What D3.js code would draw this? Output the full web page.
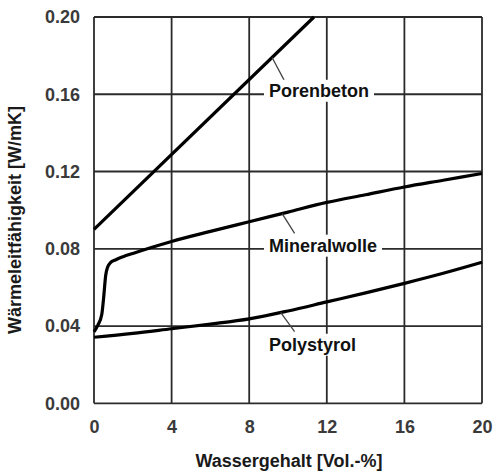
<!DOCTYPE html>
<html><head><meta charset="utf-8">
<script src="https://cdn.jsdelivr.net/npm/d3@7"></script>
<style>
html,body{margin:0;padding:0;background:#fff;}
svg text{font-family:"Liberation Sans",Arial,sans-serif;font-weight:bold;}
</style></head>
<body><svg id="c" width="493" height="472"></svg>
<script>
const xTicks = [0, 4, 8, 12, 16, 20];
const yTicks = [0.00, 0.04, 0.08, 0.12, 0.16, 0.20];
const yTickLabels = ["0.00", "0.04", "0.08", "0.12", "0.16", "0.20"];

const porenbetonX = [0, 11.34];
const porenbetonY = [0.090, 0.200];

const mineralwolleX = [0, 0.2, 0.4, 0.5, 0.6, 0.7, 0.85, 1.1, 1.5, 2, 3, 4, 6, 8, 10, 12, 14, 16, 18, 20];
const mineralwolleY = [0.037, 0.0405, 0.046, 0.055, 0.066, 0.0705, 0.0728, 0.0742, 0.0759, 0.0776, 0.0808, 0.0838, 0.089, 0.094, 0.099, 0.104, 0.108, 0.112, 0.1155, 0.119];

const polystyrolX = [0, 2, 4, 6, 8, 10, 12, 14, 16, 18, 20];
const polystyrolY = [0.0342, 0.0362, 0.0386, 0.041, 0.0437, 0.0478, 0.0525, 0.0572, 0.0621, 0.0673, 0.073];

const seriesNames = ["Porenbeton", "Mineralwolle", "Polystyrol"];

const svg = d3.select("#c");
const x = d3.scaleLinear().domain([0, 20]).range([94, 482]);
const y = d3.scaleLinear().domain([0, 0.2]).range([403.3, 17]);

const grid = svg.append("g").attr("stroke", "#2b2b2b").attr("stroke-width", 1.8);
grid.selectAll("line.v").data(xTicks).join("line")
  .attr("x1", d => x(d)).attr("x2", d => x(d)).attr("y1", y(0)).attr("y2", y(0.2));
grid.selectAll("line.h").data(yTicks).join("line")
  .attr("y1", d => y(d)).attr("y2", d => y(d)).attr("x1", x(0)).attr("x2", x(20));

const xAxis = svg.append("g").attr("transform", `translate(0,${y(0)})`)
  .call(d3.axisBottom(x).tickValues(xTicks).tickSize(0).tickPadding(26).tickFormat(d3.format("d")));
const yAxis = svg.append("g").attr("transform", `translate(${x(0)},0)`)
  .call(d3.axisLeft(y).tickValues(yTicks).tickSize(0).tickPadding(14).tickFormat((d, i) => yTickLabels[i]));
[xAxis, yAxis].forEach(a => {
  a.select(".domain").remove();
  a.selectAll("text").attr("font-size", 18).attr("fill", "#3a3a3a")
    .style("font-family", '"Liberation Sans",Arial,sans-serif');
});
xAxis.selectAll("text").attr("dy", "0.2em");

const line = d3.line().x(d => x(d[0])).y(d => y(d[1])).curve(d3.curveMonotoneX);
const zip = (a, b) => a.map((v, i) => [v, b[i]]);
const series = [zip(porenbetonX, porenbetonY), zip(mineralwolleX, mineralwolleY), zip(polystyrolX, polystyrolY)];

const curves = svg.append("g").attr("fill", "none").attr("stroke", "#000").attr("stroke-width", 3.2)
  .attr("stroke-linejoin", "round").attr("stroke-linecap", "butt");
series.forEach(s => curves.append("path").attr("d", line(s)));

const interp = (xs, ys, v) => {
  for (let i = 1; i < xs.length; i++) if (v <= xs[i]) {
    const t = (v - xs[i-1]) / (xs[i] - xs[i-1]); return ys[i-1] + t * (ys[i] - ys[i-1]);
  }
  return ys[ys.length - 1];
};
const labelAt = [
  {name: seriesNames[0], xs: porenbetonX, ys: porenbetonY, lx: 9.02, ly: 0.1587, from: 9.18, to: [9.8, 0.1673]},
  {name: seriesNames[1], xs: mineralwolleX, ys: mineralwolleY, lx: 9.02, ly: 0.0785, from: 9.7, to: [10.34, 0.088]},
  {name: seriesNames[2], xs: polystyrolX, ys: polystyrolY, lx: 9.02, ly: 0.0272, from: 9.62, to: [10.34, 0.0371]}
];
labelAt.forEach(l => {
  svg.append("line").attr("stroke", "#444").attr("stroke-width", 1.3)
    .attr("x1", x(l.from)).attr("y1", y(interp(l.xs, l.ys, l.from)))
    .attr("x2", x(l.to[0])).attr("y2", y(l.to[1]));
  const g = svg.append("g");
  const rect = g.append("rect").attr("fill", "#fff");
  const t = g.append("text").attr("x", x(l.lx)).attr("y", y(l.ly)).attr("font-size", 18)
    .attr("fill", "#111").text(l.name);
  const b = t.node().getBBox();
  rect.attr("x", b.x - 5).attr("y", b.y - 1).attr("width", b.width + 10).attr("height", b.height + 2);
});

svg.append("text").attr("x", 289).attr("y", 467).attr("text-anchor", "middle")
  .attr("font-size", 18).attr("fill", "#1a1a1a").text("Wassergehalt [Vol.-%]");
svg.append("text").attr("transform", "translate(21,220) rotate(-90)").attr("text-anchor", "middle")
  .attr("font-size", 18).attr("fill", "#1a1a1a").text("Wärmeleitfähigkeit [W/mK]");
</script></body></html>
